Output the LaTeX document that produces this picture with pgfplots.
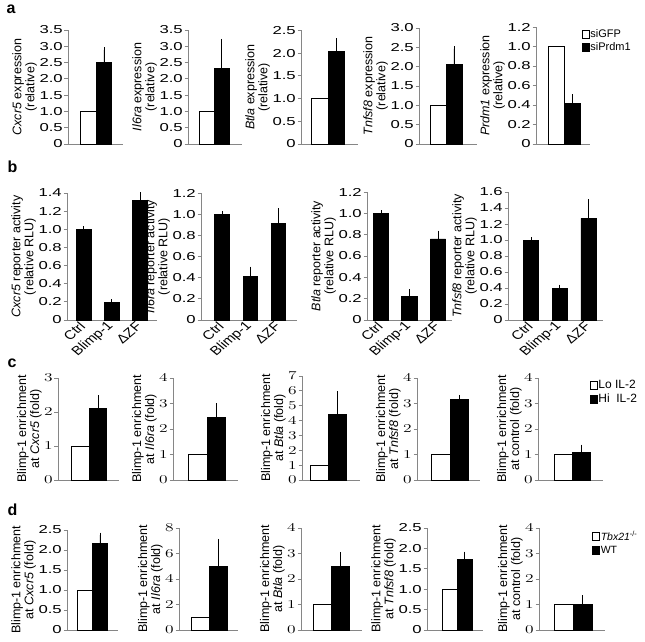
\documentclass[border=0pt]{standalone}
\usepackage{pgfplots}
\pgfplotsset{compat=1.18}
\usepackage{fontspec}
\setmainfont{Liberation Sans}
\definecolor{axgray}{HTML}{868686}
\newcommand\tickfnt{\fontsize{11.5}{12}\selectfont}
\newcommand\labfnt{\fontsize{12.5}{13}\selectfont}

\pgfplotsset{
 panel/.style={anchor=south west, scale only axis, axis lines=left,
   axis line style={-, draw=axgray, line width=0.9pt},
   ymin=0, xtick=\empty, tick align=outside, major tick length=3.5pt,
   ytick style={draw=axgray, line width=0.9pt},
   yticklabel style={font=\tickfnt, xscale=1.45, inner sep=1pt},
   ylabel style={font=\labfnt, align=center, inner sep=1pt},
   clip=false},
 wb/.style={ybar, bar width=1, bar shift=0pt, fill=white, draw=black, line width=0.8pt},
 bb/.style={ybar, bar width=#1, bar shift=0pt, fill=black, draw=black, line width=0.8pt,
   error bars/.cd, y dir=plus, y explicit, error bar style={black, line width=0.8pt},
   error mark options={black, line width=0.8pt, mark size=2.5pt}},
 bb/.default=1,
 leg/.style n args={3}{legend style={at={#1}, anchor=north west, draw=none, fill=none,
   inner sep=0pt, font=\fontsize{#2}{#2}\selectfont, row sep=#3, nodes={inner sep=1pt}},
   legend cell align=left,
   legend image code/.code={\draw[##1, line width=0.8pt] (0pt,-4pt) rectangle (7pt,4pt);}},
 bpanel/.style={panel, xtick={1,2,3}, xticklabels={Ctrl,Blimp-1,ΔZF}, xtick style={draw=none},
   xticklabel style={font=\fontsize{12.5}{13}\selectfont, xscale=1.2, rotate=45, anchor=east, inner sep=1pt}},
}

\begin{document}
\begin{tikzpicture}
\useasboundingbox (0,0) rectangle (645pt,641pt);
\node[anchor=base west, font=\bfseries\fontsize{16}{16}\selectfont] at (3pt,627.5pt) {a};
\node[anchor=base west, font=\bfseries\fontsize{16}{16}\selectfont] at (4pt,468pt) {b};
\node[anchor=base west, font=\bfseries\fontsize{16}{16}\selectfont] at (4pt,274pt) {c};
\node[anchor=base west, font=\bfseries\fontsize{16}{16}\selectfont] at (4pt,126pt) {d};

% ---- a
\begin{axis}[panel, at={(68pt,497pt)}, width=55pt, height=114pt, xmin=-0.32, xmax=3.23, ymax=3.5,
  ytick={0,0.5,1,1.5,2,2.5,3,3.5}, yticklabels={0,0.5,1.0,1.5,2.0,2.5,3.0,3.5},
  ylabel={\textit{Cxcr5} expression\\(relative)}]
\addplot[wb] coordinates {(1,1)};
\addplot[bb] coordinates {(2,2.52) +- (0,0.37)};
\end{axis}
\begin{axis}[panel, at={(188pt,497pt)}, width=54pt, height=114pt, xmin=-0.23, xmax=3.37, ymax=3.5,
  ytick={0,0.5,1,1.5,2,2.5,3,3.5}, yticklabels={0,0.5,1.0,1.5,2.0,2.5,3.0,3.5},
  ylabel={\textit{Il6ra} expression\\(relative)}]
\addplot[wb] coordinates {(1,1)};
\addplot[bb] coordinates {(2,2.33) +- (0,0.82)};
\end{axis}
\begin{axis}[panel, at={(301pt,497pt)}, width=57pt, height=113.5pt, xmin=-0.15, xmax=3.3, ymax=2.5,
  ytick={0,0.5,1,1.5,2,2.5}, yticklabels={0,0.5,1.0,1.5,2.0,2.5},
  ylabel={\textit{Btla} expression\\(relative)}]
\addplot[wb] coordinates {(1,1)};
\addplot[bb] coordinates {(2,2.05) +- (0,0.22)};
\end{axis}
\begin{axis}[panel, at={(419pt,497pt)}, width=58pt, height=116pt, xmin=-0.19, xmax=3.44, ymax=3,
  ytick={0,0.5,1,1.5,2,2.5,3}, yticklabels={0,0.5,1.0,1.5,2.0,2.5,3.0},
  ylabel={\textit{Tnfsf8} expression\\(relative)}]
\addplot[wb] coordinates {(1,1)};
\addplot[bb] coordinates {(2,2.05) +- (0,0.41)};
\end{axis}
\begin{axis}[panel, at={(536pt,497pt)}, width=54pt, height=117pt, xmin=-0.25, xmax=3.125, ymax=1.2,
  ytick={0,0.2,0.4,0.6,0.8,1,1.2}, yticklabels={0,0.2,0.4,0.6,0.8,1.0,1.2},
  ylabel={\textit{Prdm1} expression\\(relative)}, leg={(0.84,0.99)}{11}{2pt}]
\addplot[wb] coordinates {(1,1)};
\addplot[bb] coordinates {(2,0.42) +- (0,0.065)};
\legend{siGFP,siPrdm1}
\end{axis}

% ---- b
\begin{axis}[bpanel, at={(67pt,321pt)}, width=90pt, height=127pt, xmin=0.416, xmax=3.6, ymax=1.4,
  ytick={0,0.2,0.4,0.6,0.8,1,1.2,1.4}, yticklabels={0,0.2,0.4,0.6,0.8,1.0,1.2,1.4},
  ylabel={\textit{Cxcr5} reporter activity\\(relative RLU)}]
\addplot[bb=0.53] coordinates {(1,1.0) +- (0,0.005) (2,0.19) +- (0,0.012) (3,1.32) +- (0,0.06)};
\end{axis}
\begin{axis}[bpanel, at={(201pt,321pt)}, width=96pt, height=127pt, xmin=0.257, xmax=3.65, ymax=1.2,
  ytick={0,0.2,0.4,0.6,0.8,1,1.2}, yticklabels={0,0.2,0.4,0.6,0.8,1.0,1.2},
  ylabel={\textit{Il6ra} reporter activity\\(relative RLU)}]
\addplot[bb=0.51] coordinates {(1,1.0) +- (0,0.006) (2,0.41) +- (0,0.07) (3,0.91) +- (0,0.12)};
\end{axis}
\begin{axis}[bpanel, at={(367pt,321pt)}, width=85pt, height=128pt, xmin=0.509, xmax=3.49, ymax=1.2,
  ytick={0,0.2,0.4,0.6,0.8,1,1.2}, yticklabels={0,0.2,0.4,0.6,0.8,1.0,1.2},
  ylabel={\textit{Btla} reporter activity\\(relative RLU)}]
\addplot[bb=0.54] coordinates {(1,1.0) +- (0,0.004) (2,0.22) +- (0,0.045) (3,0.76) +- (0,0.055)};
\end{axis}
\begin{axis}[bpanel, at={(508pt,321pt)}, width=95pt, height=128pt, xmin=0.2, xmax=3.5, ymax=1.6,
  ytick={0,0.2,0.4,0.6,0.8,1,1.2,1.4,1.6}, yticklabels={0,0.2,0.4,0.6,0.8,1.0,1.2,1.4,1.6},
  ylabel={\textit{Tnfsf8} reporter activity\\(relative RLU)}]
\addplot[bb=0.53] coordinates {(1,1.0) +- (0,0.004) (2,0.39) +- (0,0.02) (3,1.27) +- (0,0.21)};
\end{axis}

% ---- c
\begin{axis}[panel, at={(58pt,161pt)}, width=61pt, height=102pt, xmin=-0.286, xmax=3.2, ymax=3,
  ytick={0,1,2,3}, ylabel={Blimp-1 enrichment\\at \textit{Cxcr5} (fold)}]
\addplot[wb] coordinates {(1,1)};
\addplot[bb] coordinates {(2,2.1) +- (0,0.32)};
\end{axis}
\begin{axis}[panel, at={(173pt,161pt)}, width=65pt, height=102pt, xmin=-0.35, xmax=3.16, ymax=4,
  ytick={0,1,2,3,4}, ylabel={Blimp-1 enrichment\\at \textit{Il6ra} (fold)}]
\addplot[wb] coordinates {(1,1)};
\addplot[bb] coordinates {(2,2.47) +- (0,0.45)};
\end{axis}
\begin{axis}[panel, at={(302pt,161pt)}, width=58pt, height=104pt, xmin=0.028, xmax=3.25, ymax=7,
  ytick={0,1,2,3,4,5,6,7}, ylabel={Blimp-1 enrichment\\at \textit{Btla} (fold)}]
\addplot[wb] coordinates {(1,1)};
\addplot[bb] coordinates {(2,4.39) +- (0,1.4)};
\end{axis}
\begin{axis}[panel, at={(417pt,161pt)}, width=63pt, height=102pt, xmin=-0.3, xmax=3.1, ymax=4,
  ytick={0,1,2,3,4}, ylabel={Blimp-1 enrichment\\at \textit{Tnfsf8} (fold)}]
\addplot[wb] coordinates {(1,1)};
\addplot[bb] coordinates {(2,3.17) +- (0,0.07)};
\end{axis}
\begin{axis}[panel, at={(538pt,161pt)}, width=65pt, height=102pt, xmin=-0.39, xmax=3.22, ymax=4,
  ytick={0,1,2,3,4}, ylabel={Blimp-1 enrichment\\at control (fold)}, leg={(0.79,0.99)}{12}{2pt}]
\addplot[wb] coordinates {(1,1)};
\addplot[bb] coordinates {(2,1.09) +- (0,0.2)};
\legend{Lo IL-2,Hi~\ IL-2}
\end{axis}

% ---- d
\begin{axis}[panel, at={(67pt,11pt)}, width=51pt, height=100pt, xmin=-0.2, xmax=3.2, ymax=2.5,
  ytick={0,0.5,1,1.5,2,2.5}, yticklabels={0,0.5,1.0,1.5,2.0,2.5},
  ylabel={Blimp-1 enrichment\\at \textit{Cxcr5} (fold)}]
\addplot[wb] coordinates {(1,1)};
\addplot[bb] coordinates {(2,2.17) +- (0,0.2)};
\end{axis}
\begin{axis}[panel, at={(179pt,11pt)}, width=59pt, height=102pt, xmin=-0.19, xmax=3.08, ymax=8,
  ytick={0,2,4,6,8}, ylabel={Blimp-1 enrichment\\at \textit{Il6ra} (fold)}]
\addplot[wb] coordinates {(1,1)};
\addplot[bb] coordinates {(2,5.0) +- (0,1.95)};
\end{axis}
\begin{axis}[panel, at={(301pt,11pt)}, width=61pt, height=102pt, xmin=-0.17, xmax=3.22, ymax=4,
  ytick={0,1,2,3,4}, ylabel={Blimp-1 enrichment\\at \textit{Btla} (fold)}]
\addplot[wb] coordinates {(1,1)};
\addplot[bb] coordinates {(2,2.49) +- (0,0.46)};
\end{axis}
\begin{axis}[panel, at={(427pt,11pt)}, width=56pt, height=102pt, xmin=-0.5, xmax=3.23, ymax=2.5,
  ytick={0,0.5,1,1.5,2,2.5}, yticklabels={0,0.5,1.0,1.5,2.0,2.5},
  ylabel={Blimp-1 enrichment\\at \textit{Tnfsf8} (fold)}]
\addplot[wb] coordinates {(1,1)};
\addplot[bb] coordinates {(2,1.72) +- (0,0.14)};
\end{axis}
\begin{axis}[panel, at={(539pt,11pt)}, width=66pt, height=102pt, xmin=-0.35, xmax=3.2, ymax=4,
  ytick={0,1,2,3,4}, ylabel={Blimp-1 enrichment\\at control (fold)}, leg={(0.8,0.98)}{10.5}{2pt}]
\addplot[wb] coordinates {(1,1)};
\addplot[bb] coordinates {(2,1.02) +- (0,0.25)};
\legend{\textit{Tbx21}\textsuperscript{-/-},WT}
\end{axis}
\end{tikzpicture}
\end{document}
